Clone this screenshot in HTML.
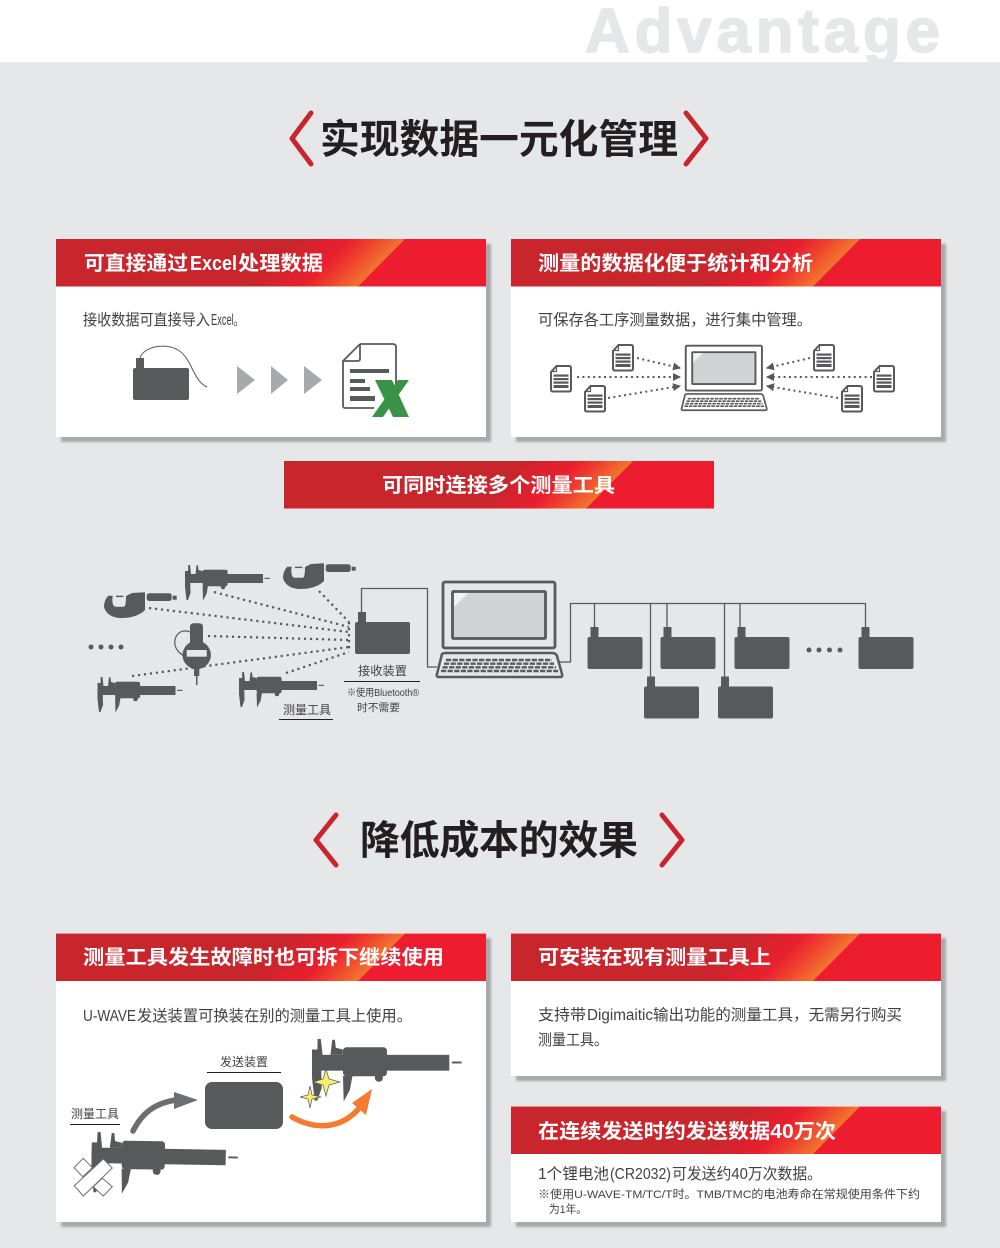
<!DOCTYPE html>
<html lang="zh">
<head>
<meta charset="utf-8">
<title>Advantage</title>
<style>
html,body{margin:0;padding:0;background:#e6e7e9}
svg{display:block}
text{font-family:"Liberation Sans","Noto Sans CJK SC",sans-serif}
.h{font-size:20px;font-weight:700;fill:#fff}
.t{font-size:40px;font-weight:700;fill:#231f20}
.b{font-size:15.5px;fill:#414042}
.s{font-size:12px;fill:#414042}
.d{stroke:#58595b;stroke-width:2.200;stroke-dasharray:2.200 3.800;fill:none}
.e{stroke:#58595b;stroke-width:2;stroke-dasharray:2 3.400;fill:none}
.c{stroke:#58595b;stroke-width:1.300;fill:none}
.u{stroke:#231f20;stroke-width:1}
</style>
</head>
<body>
<svg width="1000" height="1248" viewBox="0 0 1000 1248" xmlns="http://www.w3.org/2000/svg">
<defs>
<linearGradient id="hg" gradientUnits="userSpaceOnUse" x1="0" y1="0" x2="174.5" y2="174.5">
<stop offset="0" stop-color="#c8252c"/><stop offset=".68" stop-color="#c8252c"/>
<stop offset=".84" stop-color="#e91f2e"/><stop offset=".9" stop-color="#ee3a2e"/><stop offset="1" stop-color="#f3752f"/>
</linearGradient>
<filter id="bl" x="-5%" y="-5%" width="110%" height="110%"><feGaussianBlur stdDeviation="1"/></filter>
<g id="hd"><rect width="430" height="47.500" fill="#ed1c2e"/><polygon points="0,0 349,0 302,47.500 0,47.500" fill="url(#hg)"/></g>
<g id="dev" fill="#58595b"><rect x="0" y="0" width="55" height="32" rx="2"/><rect x="3" y="-10" width="8" height="11"/></g>
<g id="cal" fill="#58595b">
<rect x="0" y="9" width="78" height="9"/>
<polygon points="0,6 5,6 5.500,28 3,35 1.500,35 0,22"/>
<polygon points="3.200,0 5,0 6,9 3,9"/>
<polygon points="11.500,0.400 13,0.400 13.500,5 17.500,6 17.500,9 10.500,9"/>
<rect x="17.600" y="4.700" width="25" height="16.500" rx="2"/>
<polygon points="17.600,21 23,21 21.500,29 18,35.500"/>
<circle cx="38" cy="22" r="2.300"/>
<rect x="79.500" y="12.800" width="5.500" height="1.100"/>
</g>
<g id="mic" fill="#58595b">
<path d="M4.300,3.700 L8.700,3.700 C8,8 8,14.700 12,14.700 L20,14.700 Q22,14 22,4 L28,1 L41,0.300 L41,18 C36,23 28,26 18,26 C8,26 2,22 0,15 C0,10 2,6 4.300,3.700 Z"/>
<rect x="12" y="3.700" width="7.300" height="1.400"/>
<rect x="42.700" y="1.300" width="25" height="7.700" rx="2.500"/>
<rect x="68.700" y="3.700" width="4" height="4"/>
</g>
<g id="doc">
<path d="M6.500,1 L19,1 Q21,1 21,3 L21,24.500 Q21,26.500 19,26.500 L3,26.500 Q1,26.500 1,24.500 L1,7 Z" fill="#fff" stroke="#58595b" stroke-width="2"/>
<path d="M6.500,1 L6.500,6.500 L1,6.500" fill="none" stroke="#58595b" stroke-width="1.200"/>
<g fill="#58595b"><rect x="3.500" y="9.500" width="15" height="2.200"/><rect x="3.500" y="13" width="15" height="2.200"/><rect x="3.500" y="16.500" width="15" height="2.200"/><rect x="3.500" y="20" width="15" height="3"/></g>
</g>
<g id="lap">
<rect x="7" y="1" width="112" height="66" rx="2" fill="none" stroke="#58595b" stroke-width="2.800"/>
<rect x="16.500" y="10.500" width="93" height="47" rx="1" fill="#d1d3d4" stroke="#58595b" stroke-width="2.800"/>
<polygon points="18,12 32,12 18,26" fill="#f1f2f2"/>
<path d="M6,73 Q7,72 10,72 L116,72 Q120,72 121,75 L126,93 Q127,96 124,96 L3,96 Q0,96 1,93 Z" fill="none" stroke="#58595b" stroke-width="2.500"/>
<g stroke="#58595b" stroke-width="2.400" stroke-dasharray="5.200 1.400" fill="none">
<path d="M10,79 H116"/><path d="M8,82.700 H118"/><path d="M6.500,86.300 H120"/><path d="M5,90 H122"/>
</g>
</g>
<marker id="ah" viewBox="0 0 8 8" refX="7" refY="4" markerWidth="8" markerHeight="8" markerUnits="userSpaceOnUse" orient="auto"><polygon points="0,0 8,4 0,8" fill="#58595b"/></marker>
</defs>

<rect width="1000" height="1248" fill="#e6e7e9"/>
<rect width="1000" height="62" fill="#fff"/>
<text x="585" y="52" font-size="62" font-weight="700" fill="#e6e7e9" stroke="#e6e7e9" stroke-width="1.500" textLength="355" lengthAdjust="spacing">Advantage</text>
<rect y="62" width="1000" height="10" fill="#e6e7e9"/>

<!-- title 1 -->
<path d="M311,113 L292,138.500 L311,164" fill="none" stroke="#c8252c" stroke-width="5" stroke-linecap="round" stroke-linejoin="round"/>
<path d="M686,113 L706,138.500 L686,164" fill="none" stroke="#c8252c" stroke-width="5" stroke-linecap="round" stroke-linejoin="round"/>
<text class="t" x="320" y="153" textLength="358" lengthAdjust="spacingAndGlyphs">实现数据一元化管理</text>

<!-- panel shadows -->
<g fill="#a7a9ac" filter="url(#bl)">
<rect x="61" y="244" width="430" height="198"/><rect x="516" y="244" width="430" height="198"/>
<rect x="61" y="938" width="430" height="289"/><rect x="516" y="938" width="430" height="143"/><rect x="516" y="1111" width="430" height="116"/>
</g>
<g fill="#fff">
<rect x="56" y="239" width="430" height="198"/><rect x="511" y="239" width="430" height="198"/>
<rect x="56" y="933" width="430" height="289"/><rect x="511" y="933" width="430" height="143"/><rect x="511" y="1106" width="430" height="116"/>
</g>

<!-- panel 1 -->
<use href="#hd" x="56" y="239"/>
<text class="h" x="84" y="270" textLength="104" lengthAdjust="spacingAndGlyphs">可直接通过</text>
<text class="h" x="190" y="270" textLength="47" lengthAdjust="spacingAndGlyphs">Excel</text>
<text class="h" x="238" y="270" textLength="85" lengthAdjust="spacingAndGlyphs">处理数据</text>
<text class="b" x="83" y="325" textLength="127" lengthAdjust="spacingAndGlyphs">接收数据可直接导入</text>
<text class="b" x="211" y="325" textLength="32" lengthAdjust="spacingAndGlyphs">Excel。</text>
<rect x="133" y="368" width="56" height="32" rx="2" fill="#58595b"/><rect x="136" y="358" width="8" height="11" fill="#58595b"/>
<path d="M140,358 C143,347 165,342 178,350 C192,358 193,381 207,387" fill="none" stroke="#58595b" stroke-width="1"/>
<g fill="#a7a9ac"><polygon points="237,366 255,380 237,394"/><polygon points="271,366 288,380 271,394"/><polygon points="304,366 322,380 304,394"/></g>
<path d="M360,344 L393,344 Q396,344 396,347 L396,384 M374,408 L345,408 Q343,408 343,405 L343,361 L360,344" fill="none" stroke="#58595b" stroke-width="1.800"/>
<path d="M360,344 L360,359 Q360,361 357,361 L343,361" fill="none" stroke="#58595b" stroke-width="1.800"/>
<g fill="#58595b"><rect x="350" y="369" width="39" height="4"/><rect x="350" y="379" width="15" height="4"/><rect x="350" y="387" width="20" height="4"/><rect x="350" y="396" width="25" height="5"/></g>
<g fill="#3a9249"><polygon points="375,380 392,380 409,417 393,417"/><polygon points="398,380 409,380 383,417 372,417"/></g>

<!-- panel 2 -->
<use href="#hd" x="511" y="239"/>
<text class="h" x="538" y="270" textLength="275" lengthAdjust="spacingAndGlyphs">测量的数据化便于统计和分析</text>
<text class="b" x="538" y="325" textLength="274" lengthAdjust="spacingAndGlyphs">可保存各工序测量数据，进行集中管理。</text>
<use href="#lap" transform="translate(681,345) scale(.68)"/>
<use href="#doc" x="612" y="344"/><use href="#doc" x="550" y="365"/><use href="#doc" x="584" y="385"/>
<use href="#doc" x="813" y="344"/><use href="#doc" x="873" y="365"/><use href="#doc" x="841" y="385"/>
<g class="e">
<line x1="637" y1="358" x2="680" y2="368" marker-end="url(#ah)"/>
<line x1="577" y1="377" x2="680" y2="377" marker-end="url(#ah)"/>
<line x1="608" y1="398" x2="680" y2="386" marker-end="url(#ah)"/>
<line x1="810" y1="358" x2="767" y2="368" marker-end="url(#ah)"/>
<line x1="872" y1="377" x2="767" y2="377" marker-end="url(#ah)"/>
<line x1="838" y1="398" x2="767" y2="386" marker-end="url(#ah)"/>
</g>

<!-- banner -->
<use href="#hd" x="284" y="461"/>
<text class="h" x="382" y="492" textLength="233" lengthAdjust="spacingAndGlyphs">可同时连接多个测量工具</text>

<!-- network diagram -->
<g class="d">
<line x1="319" y1="591" x2="349" y2="622"/>
<line x1="214" y1="592" x2="349" y2="627"/>
<line x1="149" y1="608" x2="349" y2="632"/>
<line x1="208" y1="636" x2="349" y2="640"/>
<line x1="132" y1="676" x2="349" y2="647"/>
<line x1="286" y1="673" x2="349" y2="652"/>
<line x1="349" y1="622" x2="349" y2="652"/>
</g>
<use href="#cal" x="185" y="565"/><use href="#cal" x="97.500" y="677"/><use href="#cal" x="239" y="672"/>
<use href="#mic" x="104" y="592"/><use href="#mic" x="283" y="563"/>
<path d="M190,632 C178,627 172,640 176,648 C178,652 181,654 184,656" fill="none" stroke="#58595b" stroke-width="1.200"/>
<g fill="#58595b">
<path d="M190,648 L190,627 Q190,623.300 194,623.300 L199,623.300 Q203,623.300 203,627 L203,648 Z"/>
<circle cx="196.700" cy="655" r="14.200"/>
<rect x="194" y="667" width="5.300" height="9"/><rect x="196" y="675" width="1.500" height="10"/>
</g>
<rect x="186.700" y="650" width="20" height="6.700" fill="#e6e7e9"/>
<g fill="#58595b"><circle cx="91" cy="647" r="2.500"/><circle cx="101" cy="647" r="2.500"/><circle cx="111" cy="647" r="2.500"/><circle cx="121" cy="647" r="2.500"/>
<circle cx="809" cy="650" r="2.500"/><circle cx="819" cy="650" r="2.500"/><circle cx="829.500" cy="650" r="2.500"/><circle cx="840" cy="650" r="2.500"/></g>
<path d="M361.500,612 V588.500 H427.500 V667 H437" class="c"/>
<use href="#dev" x="355" y="622"/>
<use href="#lap" x="436" y="581"/>
<path d="M558,662 H570.500 V603.500 H865.500 V627 M594.500,603.500 V627 M667,603.500 V627 M740,603.500 V627 M650.500,603.500 V677 M724.500,603.500 V677" class="c"/>
<use href="#dev" x="587.500" y="637"/><use href="#dev" x="660.500" y="637"/><use href="#dev" x="734.500" y="637"/><use href="#dev" x="858.500" y="637"/>
<use href="#dev" x="644" y="686.500"/><use href="#dev" x="718" y="686.500"/>
<text class="s" x="358" y="675" textLength="49" lengthAdjust="spacingAndGlyphs">接收装置</text>
<line class="u" x1="344" y1="681.500" x2="420" y2="681.500"/>
<text class="s" x="347" y="696" style="font-size:10px" textLength="72" lengthAdjust="spacingAndGlyphs">※使用Bluetooth®</text>
<text class="s" x="357" y="711" style="font-size:10.500px" textLength="43" lengthAdjust="spacingAndGlyphs">时不需要</text>
<text class="s" x="283" y="714" textLength="48" lengthAdjust="spacingAndGlyphs">测量工具</text>
<line class="u" x1="279" y1="719.500" x2="333" y2="719.500"/>

<!-- title 2 -->
<path d="M336,815 L316,840 L336,865" fill="none" stroke="#c8252c" stroke-width="5" stroke-linecap="round" stroke-linejoin="round"/>
<path d="M662,815 L682,840 L662,865" fill="none" stroke="#c8252c" stroke-width="5" stroke-linecap="round" stroke-linejoin="round"/>
<text class="t" x="360" y="854" textLength="278" lengthAdjust="spacing">降低成本的效果</text>

<!-- bottom-left panel -->
<use href="#hd" x="56" y="933.500"/>
<text class="h" x="83" y="964" textLength="361" lengthAdjust="spacingAndGlyphs">测量工具发生故障时也可拆下继续使用</text>
<text class="b" x="83" y="1021" textLength="53" lengthAdjust="spacingAndGlyphs">U-WAVE</text>
<text class="b" x="137" y="1021" textLength="275" lengthAdjust="spacingAndGlyphs">发送装置可换装在别的测量工具上使用。</text>
<text class="s" x="220" y="1066" textLength="48" lengthAdjust="spacingAndGlyphs">发送装置</text>
<line class="u" x1="207" y1="1072.500" x2="281" y2="1072.500"/>
<text class="s" x="71" y="1118" textLength="48" lengthAdjust="spacingAndGlyphs">测量工具</text>
<line class="u" x1="70" y1="1124.500" x2="120" y2="1124.500"/>
<rect x="205" y="1082" width="78" height="47" rx="7" fill="#58595b"/>
<use href="#cal" transform="translate(92,1132) scale(1.720) rotate(1)"/>
<use href="#cal" transform="translate(312,1039) scale(1.760)"/>
<path d="M133,1131 C142,1113 155,1103 176,1100" fill="none" stroke="#6d6e71" stroke-width="5.500" stroke-linecap="round"/>
<polygon points="174,1092 198,1100 174,1109" fill="#6d6e71"/>
<path d="M292,1117 C315,1130 342,1130 361,1106" fill="none" stroke="#f47b30" stroke-width="5.500" stroke-linecap="round"/>
<polygon points="372,1089 352,1103 366,1115" fill="#f47b30"/>
<path d="M326,1069 L329,1079 L340,1082 L329,1085 L326,1096 L323,1085 L313,1082 L323,1079 Z" fill="#f9ed69" stroke="#58595b" stroke-width=".7"/>
<path d="M310,1086 L312,1095 L321,1097 L312,1099 L310,1108 L308,1099 L300,1097 L308,1095 Z" fill="#f9ed69" stroke="#58595b" stroke-width=".7"/>
<g fill="#fff" stroke="#6d6e71" stroke-width="1">
<polygon points="74,1167.700 83.300,1158.300 92.300,1167.700 82.700,1176.700"/>
<polygon points="93.300,1186.700 102.300,1178.300 112.300,1186.700 103.300,1196"/>
<polygon points="74.300,1185.700 103.300,1159 112.300,1168 83.300,1196"/>
</g>

<!-- right panels -->
<use href="#hd" x="511" y="933.500"/>
<text class="h" x="538" y="964" textLength="233" lengthAdjust="spacingAndGlyphs">可安装在现有测量工具上</text>
<text class="b" x="538" y="1020" textLength="48" lengthAdjust="spacingAndGlyphs">支持带</text>
<text class="b" x="587" y="1020" textLength="66" lengthAdjust="spacingAndGlyphs">Digimaitic</text>
<text class="b" x="653" y="1020" textLength="249" lengthAdjust="spacingAndGlyphs">输出功能的测量工具，无需另行购买</text>
<text class="b" x="538" y="1045" textLength="70" lengthAdjust="spacingAndGlyphs">测量工具。</text>

<use href="#hd" x="511" y="1106.500"/>
<text class="h" x="538" y="1138" textLength="298" lengthAdjust="spacingAndGlyphs">在连续发送时约发送数据40万次</text>
<text class="b" x="538" y="1179" textLength="71" lengthAdjust="spacingAndGlyphs">1个锂电池</text>
<text class="b" x="610" y="1179" textLength="61" lengthAdjust="spacingAndGlyphs">(CR2032)</text>
<text class="b" x="672" y="1179" textLength="150" lengthAdjust="spacingAndGlyphs">可发送约40万次数据。</text>
<text class="s" x="538" y="1198" style="font-size:11.300px" textLength="382" lengthAdjust="spacingAndGlyphs">※使用U-WAVE-TM/TC/T时。TMB/TMC的电池寿命在常规使用条件下约</text>
<text class="s" x="549" y="1213" style="font-size:11.300px" textLength="38" lengthAdjust="spacingAndGlyphs">为1年。</text>
</svg>
</body>
</html>
